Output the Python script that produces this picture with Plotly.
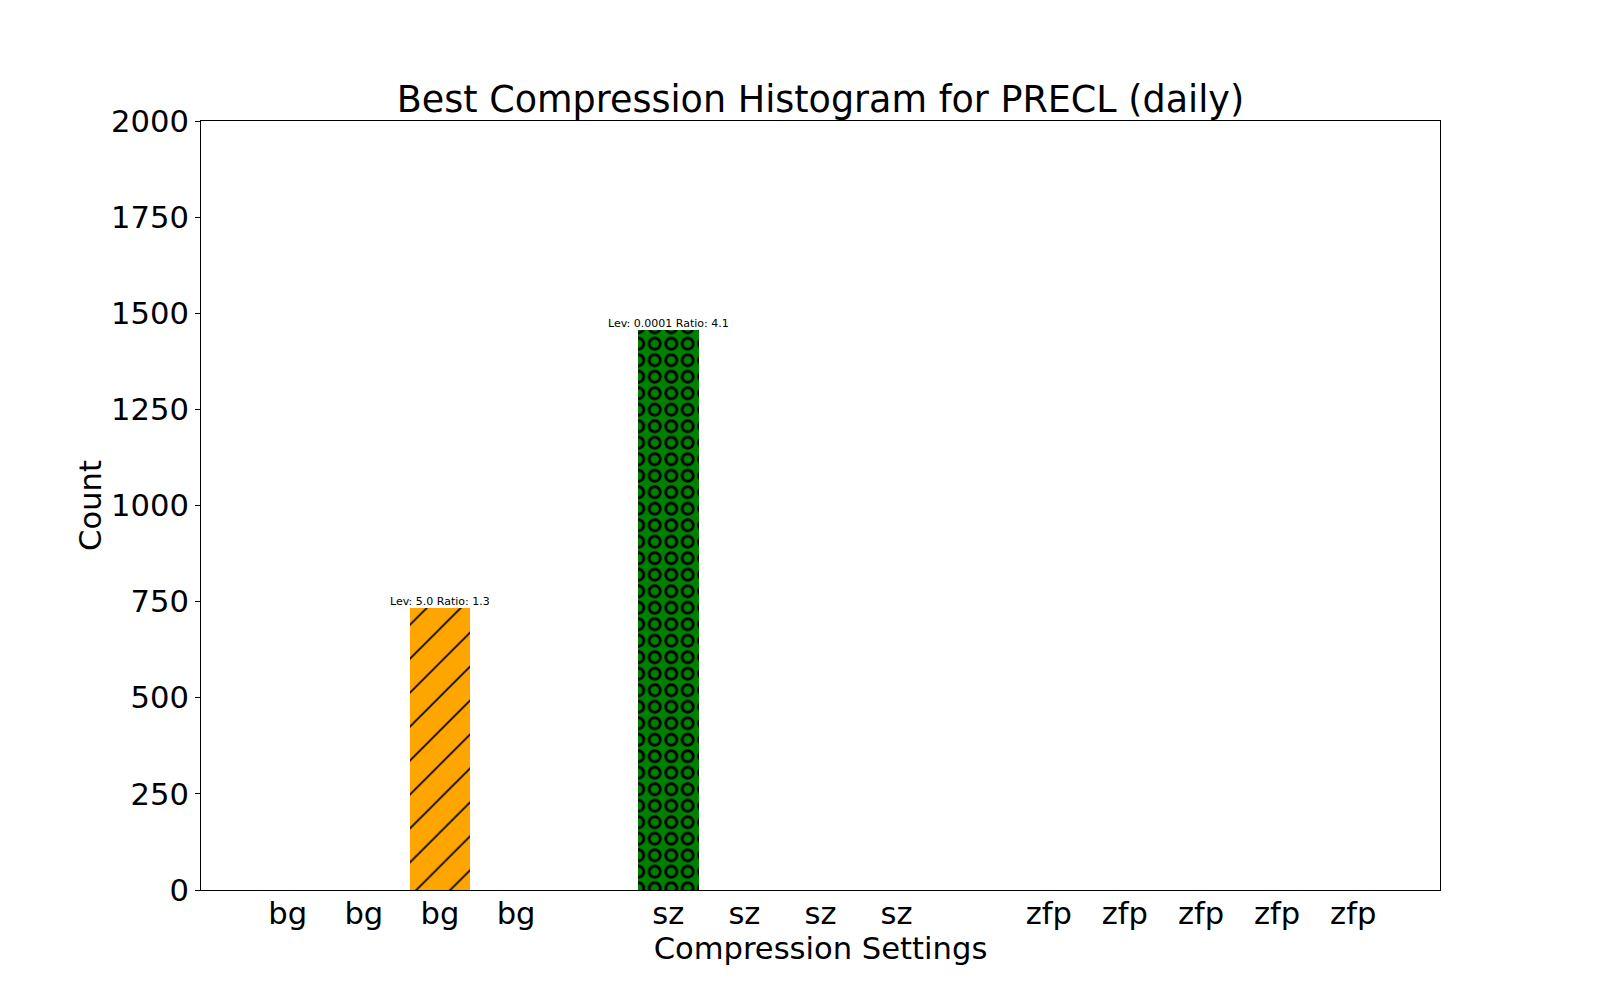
import plotly.graph_objects as go

# ---- data ----
bg_labels = ["bg", "bg", "bg", "bg"]
sz_labels = ["sz", "sz", "sz", "sz"]
zfp_labels = ["zfp", "zfp", "zfp", "zfp", "zfp"]
bg_counts = [0, 0, 733, 0]
sz_counts = [1457, 0, 0, 0]
zfp_counts = [0, 0, 0, 0, 0]
bg_text = ["", "", "Lev: 5.0 Ratio: 1.3", ""]
sz_text = ["Lev: 0.0001 Ratio: 4.1", "", "", ""]
zfp_text = ["", "", "", "", ""]
y_ticks = [0, 250, 500, 750, 1000, 1250, 1500, 1750, 2000]

title = "Best Compression Histogram for PRECL (daily)"
x_title = "Compression Settings"
y_title = "Count"

FONT = "DejaVu Sans"
TICK = 30.6

# positions: groups separated by one empty slot
def positions(n, start):
    return [start + i for i in range(n)]

bg_x = positions(len(bg_counts), 0)
sz_x = positions(len(sz_counts), bg_x[-1] + 2)
zfp_x = positions(len(zfp_counts), sz_x[-1] + 2)

fig = go.Figure()

W = 0.8
# bg: orange with '/' hatch
fig.add_trace(go.Bar(
    x=bg_x, y=bg_counts, width=W,
    marker=dict(color="#FFA500", line=dict(width=0),
                pattern=dict(shape="/", fgcolor="#000000", bgcolor="#FFA500",
                             fgopacity=1, size=24, solidity=0.07)),
    showlegend=False, hoverinfo="skip"))

# sz: green with ring hatch (black dots, then smaller green dots on top)
fig.add_trace(go.Bar(
    x=sz_x, y=sz_counts, width=W,
    marker=dict(color="#008000", line=dict(width=0),
                pattern=dict(shape=".", fgcolor="#000000", bgcolor="#008000",
                             fgopacity=1, size=16.5, solidity=0.56)),
    showlegend=False, hoverinfo="skip"))
fig.add_trace(go.Bar(
    x=sz_x, y=sz_counts, width=W,
    marker=dict(color="rgba(0,0,0,0)", line=dict(width=0),
                pattern=dict(shape=".", fgcolor="#008000", bgcolor="rgba(0,0,0,0)",
                             fgopacity=1, size=16.5, solidity=0.2)),
    showlegend=False, hoverinfo="skip"))

# zfp: all zero
fig.add_trace(go.Bar(
    x=zfp_x, y=zfp_counts, width=W,
    marker=dict(color="#1f77b4", line=dict(width=0)),
    showlegend=False, hoverinfo="skip"))

# annotations above bars
for xs, ys, ts in [(bg_x, bg_counts, bg_text), (sz_x, sz_counts, sz_text), (zfp_x, zfp_counts, zfp_text)]:
    for xv, yv, tv in zip(xs, ys, ts):
        if tv:
            fig.add_annotation(x=xv, y=yv, text=tv, showarrow=False,
                               xanchor="center", yanchor="bottom", yshift=-2,
                               font=dict(family=FONT, size=11, color="black"))

all_x = bg_x + sz_x + zfp_x
all_labels = bg_labels + sz_labels + zfp_labels
lo = all_x[0] - W / 2
hi = all_x[-1] + W / 2
pad = (hi - lo) * 0.05

fig.update_layout(
    width=1600, height=1000,
    margin=dict(l=193, r=168, t=113, b=118),
    paper_bgcolor="white", plot_bgcolor="white",
    barmode="overlay", bargap=0,
    font=dict(family=FONT, color="black"),
    title=dict(text=title, x=0.5, xref="paper", xanchor="center",
               y=1 - 104 / 1000, yref="container", yanchor="bottom",
               font=dict(family=FONT, size=36.5, color="black")),
    xaxis=dict(range=[lo - pad, hi + pad], tickmode="array",
               tickvals=all_x, ticktext=all_labels,
               ticks="", showgrid=False, zeroline=False,
               showline=True, mirror=True, linecolor="black", linewidth=1,
               ticklabelstandoff=-4,
               tickfont=dict(family=FONT, size=TICK, color="black"),
               title=dict(text=x_title, font=dict(family=FONT, size=TICK, color="black"),
                          standoff=4)),
    yaxis=dict(range=[0, 2000], tickmode="array", tickvals=y_ticks,
               ticks="outside", ticklen=5, tickwidth=1, tickcolor="black",
               showgrid=False, zeroline=False,
               showline=True, mirror=True, linecolor="black", linewidth=1,
               tickfont=dict(family=FONT, size=TICK, color="black"),
               title=dict(text=y_title, font=dict(family=FONT, size=TICK, color="black"),
                          standoff=0)),
)

fig.write_html("out.html")
